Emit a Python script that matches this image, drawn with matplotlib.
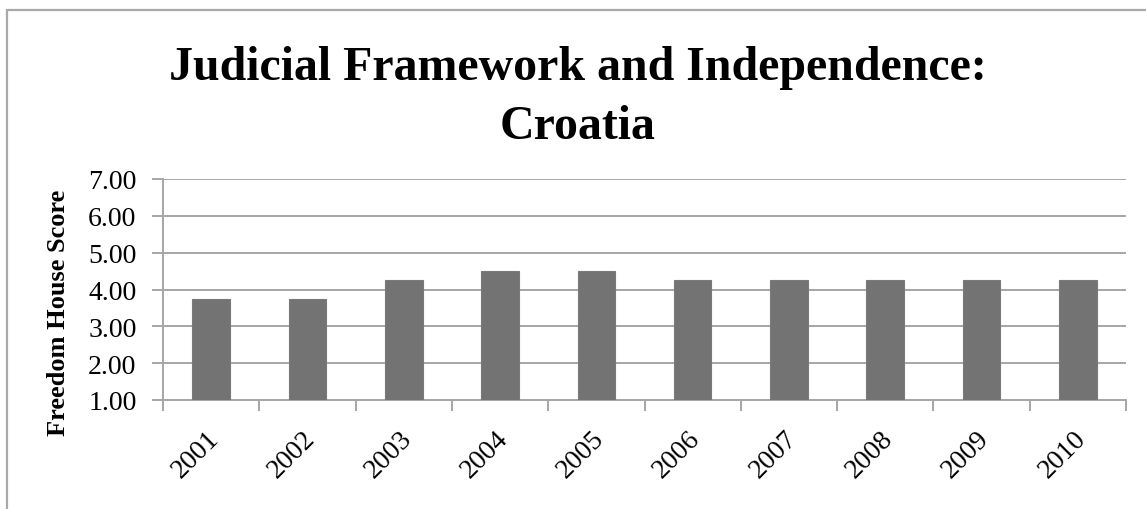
import matplotlib
matplotlib.use("Agg")
import matplotlib.pyplot as plt
from matplotlib.patches import Rectangle
from matplotlib.transforms import ScaledTranslation
import numpy as np

years = ["2001", "2002", "2003", "2004", "2005", "2006", "2007", "2008", "2009", "2010"]
scores = [3.75, 3.75, 4.25, 4.50, 4.50, 4.25, 4.25, 4.25, 4.25, 4.25]
y_ticks = [1.00, 2.00, 3.00, 4.00, 5.00, 6.00, 7.00]
title_line1 = "Judicial Framework and Independence:"
title_line2 = "Croatia"
y_label = "Freedom House Score"

plt.rcParams['font.family'] = ['Liberation Serif', 'DejaVu Serif']

W, H = 1146, 510
fig = plt.figure(figsize=(W / 100, H / 100), dpi=100)
fig.patch.set_facecolor("white")

# outer chart frame (top and left edges visible)
fig.add_artist(Rectangle((7 / W, -0.1), 1.2, (H - 11) / H + 0.1, transform=fig.transFigure,
                         fill=False, edgecolor="#a9a9a9", linewidth=1.6))

ax = fig.add_axes([163 / W, 1 - 401 / H, (1126 - 163) / W, (401 - 180) / H])
x = np.arange(len(years))
ax.bar(x, [s - 1 for s in scores], bottom=1, width=0.39, color="#737373",
       edgecolor="#7a7a7a", linewidth=0.8, zorder=3)

ax.set_xlim(-0.5, len(years) - 0.5)
ax.set_ylim(1, 7)
ax.set_yticks(y_ticks)
ax.set_yticklabels([f"{v:.2f}" for v in y_ticks], fontsize=20)
ax.yaxis.grid(True, color="#a6a6a6", linewidth=1.4, zorder=0)
ax.set_axisbelow(True)

ax.set_xticks(np.arange(-0.5, len(years), 1.0))
ax.set_xticklabels([])
ax.set_xticks(x, minor=True)
ax.set_xticklabels(years, minor=True, fontsize=20, rotation=45, ha="right",
                   va="center", rotation_mode="anchor")
ax.tick_params(axis="x", which="minor", length=0, pad=25)
ax.tick_params(axis="x", which="major", length=8, width=1.4, color="#a6a6a6", direction="out")
ax.tick_params(axis="y", length=8, width=1.4, color="#a6a6a6", direction="out", pad=11)
shift = ScaledTranslation(4 / 100, 0, fig.dpi_scale_trans)
for lbl in ax.get_xticklabels(minor=True):
    lbl.set_transform(lbl.get_transform() + shift)

for s in ["top", "right"]:
    ax.spines[s].set_visible(False)
for s in ["left", "bottom"]:
    ax.spines[s].set_color("#a6a6a6")
    ax.spines[s].set_linewidth(1.4)

ax.set_ylabel(y_label, fontsize=19, fontweight="bold")
ax.yaxis.set_label_coords(-0.097, 0.398)

fig.text(578 / W, 1 - 80 / H, title_line1, ha="center", va="baseline",
         fontsize=34.5, fontweight="bold")
fig.text(578 / W, 1 - 139 / H, title_line2, ha="center", va="baseline",
         fontsize=34.5, fontweight="bold")

fig.savefig("out.png", dpi=100)
